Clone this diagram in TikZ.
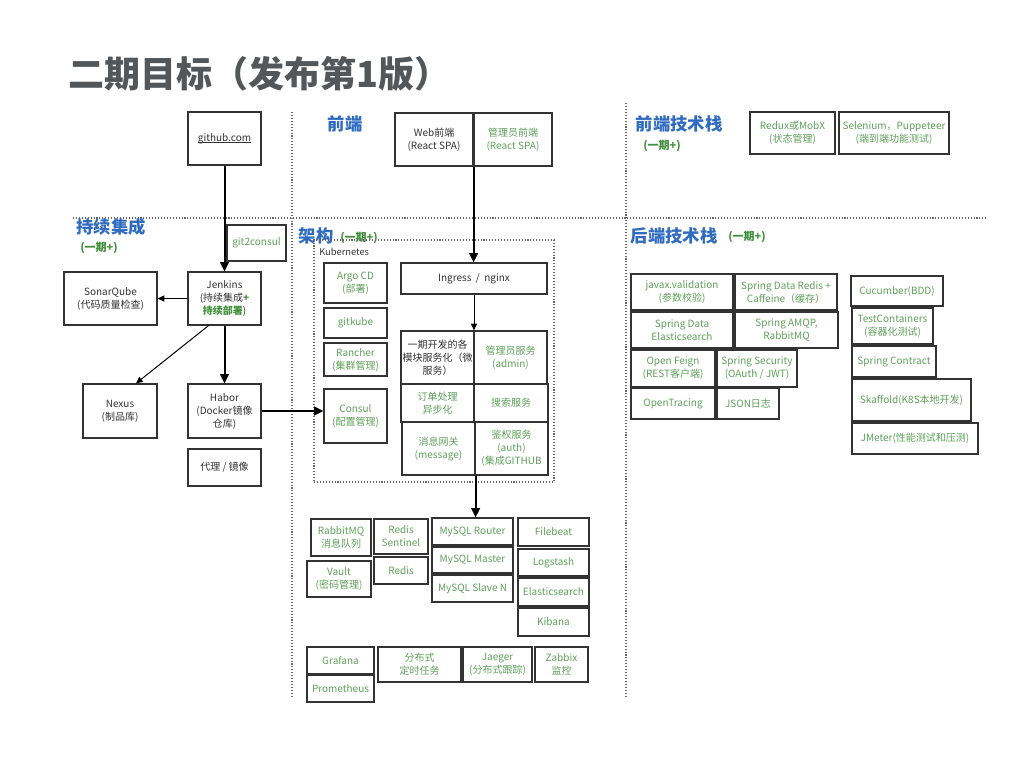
\documentclass[tikz,border=0pt]{standalone}
\usepackage{fontspec}
\setmainfont{Noto Sans CJK SC}
\usetikzlibrary{arrows.meta}
\definecolor{tgray}{HTML}{54575A}
\definecolor{hblue}{HTML}{2F6CC0}
\definecolor{tgreen}{HTML}{5FA05A}
\definecolor{hgreen}{HTML}{3F8F3A}
\definecolor{ink}{HTML}{333333}
\definecolor{sepc}{HTML}{666666}
\newcommand\mybox[7]{%
  \pgfmathsetmacro\mbw{(#4-#2)*0.75}%
  \pgfmathsetmacro\mbh{(#5-#3)*0.75}%
  \node[box,#6,minimum width=\mbw pt,minimum height=\mbh pt] (#1) at ({(#2+#4)/2},{(#3+#5)/2}) {#7};}
\newcommand\myul[1]{{\setbox0\hbox{#1}\rlap{\rule[-1.3pt]{\wd0}{0.45pt}}\box0}}
\tikzset{
  box/.style={draw=ink, line width=0.9pt, inner sep=1pt, align=center,
    font=\fontsize{7.5}{9.75}\selectfont, text=ink},
  gr/.style={text=tgreen},
  kframe/.style={draw=sepc, line width=0.9pt, dash pattern=on 0.8pt off 1.4pt},
  bigarr/.style={draw=black, line width=1.5pt, -{Triangle[length=7pt,width=6.5pt]}},
  smallarr/.style={draw=black, line width=0.75pt, -{Triangle[length=5pt,width=4.5pt]}},
  sepline/.style={draw=sepc, line width=1pt, dash pattern=on 0.8pt off 1.4pt},
  head/.style={font=\fontsize{13}{15}\selectfont\bfseries, text=hblue, inner sep=0},
  phase/.style={font=\fontsize{8.25}{10}\selectfont\bfseries, text=hgreen, inner sep=0},
}
\begin{document}
\begin{tikzpicture}[x=0.75pt,y=-0.75pt]
\useasboundingbox[fill=white] (0,0) rectangle (1024,768);

% title
\node[anchor=west, inner sep=0, font=\fontsize{27}{30}\selectfont\bfseries, text=tgray] (title) at (68,74) {二期目标（发布第1版）};

% separators
\draw[sepline] (292,112) -- (292,698);
\draw[sepline] (626,103) -- (626,697);
\draw[sepline] (73,218) -- (987,218);

% headings
\node[head] (hfe) at (345,124) {前端};
\node[head] (hfets) at (679,124) {前端技术栈};
\node[phase] (pfets) at (662,146) {(一期+)};
\node[head] (hci) at (111,227) {持续集成};
\node[phase] (pci) at (99,248) {(一期+)};
\node[head] (harch) at (316,236) {架构};
\node[phase, anchor=west] (parch) at (340,238) {(一期+)};
\node[head] (hbets) at (674,236) {后端技术栈};
\node[phase] (pbets) at (747,237) {(一期+)};

% CI column
\mybox{gh}{188}{112}{261}{165}{}{\myul{github.com}}
\mybox{g2c}{227}{225}{286}{261}{gr}{git2consul}
\mybox{jen}{188}{272}{261}{325}{}{Jenkins\\(持续集成{\color{hgreen}\bfseries +}\\{\color{hgreen}\bfseries 持续部署})}
\mybox{sonar}{64}{272}{157}{325}{}{SonarQube\\(代码质量检查)}
\mybox{nex}{83}{384}{157}{438}{}{Nexus\\(制品库)}
\mybox{hab}{188}{384}{261}{438}{}{Habor\\(Docker镜像\\仓库)}
\mybox{proxy}{188}{449}{261}{486}{}{代理~/~镜像}

% frontend
\mybox{web}{395}{113}{473}{166}{}{Web前端\\(React SPA)}
\mybox{adm}{474}{113}{552}{166}{gr}{管理员前端\\(React SPA)}
\mybox{redux}{750}{112}{835}{154}{gr}{Redux或MobX\\(状态管理)}
\mybox{selen}{839}{112}{949}{154}{gr}{Selenium，Puppeteer\\(端到端功能测试)}

% kubernetes
\mybox{k8s}{314}{240}{554}{482}{kframe}{}
\node[anchor=west, inner sep=0, font=\fontsize{7}{8}\selectfont, text=ink] (k8slabel) at (319,252) {Kubernetes};
\mybox{argo}{324}{263}{387}{303}{gr}{Argo CD\\(部署)}
\mybox{gitkube}{324}{308}{387}{338}{gr}{gitkube}
\mybox{rancher}{324}{343}{387}{376}{gr}{Rancher\\(集群管理)}
\mybox{consul}{324}{389}{387}{443}{gr}{Consul\\(配置管理)}
\mybox{ingress}{401}{263}{547}{294}{}{Ingress~~/~~nginx}
\mybox{s1}{401}{331}{474}{384}{}{一期开发的各\\模块服务化（微\\服务）}
\mybox{s2}{474}{331}{547}{384}{gr}{管理员服务\\(admin)}
\mybox{s3}{401}{384}{474}{422}{gr}{订单处理\\异步化}
\mybox{s4}{474}{384}{548}{422}{gr}{搜索服务}
\mybox{s5}{402}{422}{475}{475}{gr}{消息网关\\(message)}
\mybox{s6}{475}{422}{548}{475}{gr}{鉴权服务\\(auth)\\(集成GITHUB}

% infrastructure
\mybox{rmq}{311}{519}{371}{556}{gr}{RabbitMQ\\消息队列}
\mybox{vault}{307}{561}{371}{597}{gr}{Vault\\(密码管理)}
\mybox{rsent}{374}{519}{428}{554}{gr}{Redis\\Sentinel}
\mybox{redis}{374}{557}{428}{584}{gr}{Redis}
\mybox{router}{432}{518}{513}{545}{gr}{MySQL Router}
\mybox{master}{432}{547}{513}{573}{gr}{MySQL Master}
\mybox{slave}{432}{575}{513}{602}{gr}{MySQL Slave N}
\mybox{filebeat}{518}{518}{589}{546}{gr}{Filebeat}
\mybox{logstash}{518}{549}{589}{576}{gr}{Logstash}
\mybox{es}{518}{578}{589}{606}{gr}{Elasticsearch}
\mybox{kibana}{518}{608}{589}{636}{gr}{Kibana}
\mybox{grafana}{307}{647}{374}{674}{gr}{Grafana}
\mybox{prom}{307}{675}{374}{702}{gr}{Prometheus}
\mybox{cron}{378}{647}{461}{682}{gr}{分布式\\定时任务}
\mybox{jaeger}{463}{647}{532}{682}{gr}{Jaeger\\(分布式跟踪)}
\mybox{zabbix}{535}{647}{588}{682}{gr}{Zabbix\\监控}

% backend tech stack
\mybox{javax}{631}{274}{733}{310}{gr}{javax.validation\\(参数校验)}
\mybox{sdr}{735}{274}{837}{310}{gr}{Spring Data Redis +\\Caffeine（缓存）}
\mybox{sde}{631}{312}{733}{348}{gr}{Spring Data\\Elasticsearch}
\mybox{amqp}{735}{312}{838}{348}{gr}{Spring AMQP,\\RabbitMQ}
\mybox{feign}{631}{350}{715}{387}{gr}{Open Feign\\(REST客户端)}
\mybox{ssec}{717}{350}{797}{387}{gr}{Spring Security\\(OAuth / JWT)}
\mybox{otr}{631}{388}{715}{419}{gr}{OpenTracing}
\mybox{jlog}{717}{388}{779}{419}{gr}{JSON日志}
\mybox{cuc}{851}{276}{943}{306}{gr}{Cucumber(BDD)}
\mybox{tc}{852}{308}{933}{344}{gr}{TestContainers\\(容器化测试)}
\mybox{scon}{852}{346}{936}{377}{gr}{Spring Contract}
\mybox{skaf}{852}{379}{971}{421}{gr}{Skaffold(K8S本地开发)}
\mybox{jm}{852}{423}{978}{454}{gr}{JMeter(性能测试和压测)}

% connectors
\draw[bigarr] (gh.south) -- (jen.north);
\draw[smallarr] (jen.west) -- (sonar.east);
\draw[smallarr] ([xshift=-12pt]jen.south) -- ([xshift=12pt]nex.north);
\draw[bigarr] (jen.south) -- (hab.north);
\draw[bigarr] (hab.east) -- (hab.east -| consul.west);
\draw[bigarr] (web.south east) -- (web.south east |- ingress.north);
\draw[smallarr] (ingress.south) -- (ingress.south |- s1.north);
\draw[bigarr] (s5.south east) -- (s5.south east |- router.north);
\end{tikzpicture}
\end{document}
